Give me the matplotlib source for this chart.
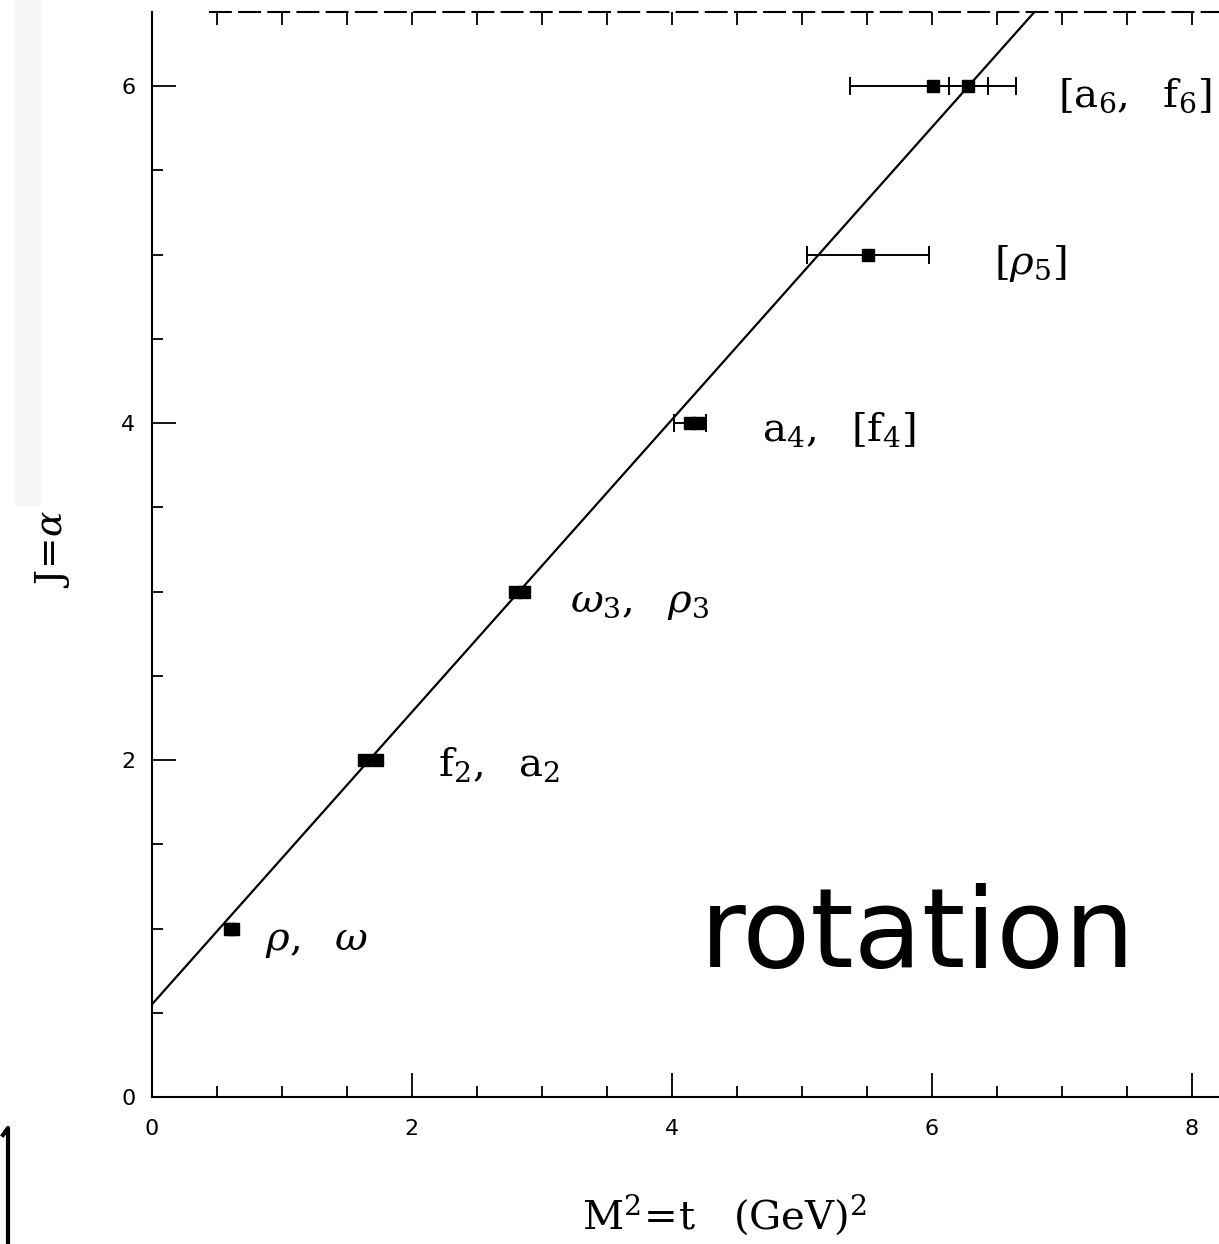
import numpy as np
import matplotlib.pyplot as plt
from matplotlib.ticker import MultipleLocator
from matplotlib.lines import Line2D
from matplotlib.patches import Rectangle

plt.rcParams['mathtext.fontset'] = 'dejavuserif'

# mesons on the leading trajectory: spin J against M^2 (GeV^2)
spin     = [1,    1,    2,    2,    3,    3,    4,    4,   5,    6,    6]
mass_sq  = [0.60, 0.62, 1.63, 1.73, 2.79, 2.86, 4.14, 4.2, 5.51, 6.01, 6.28]
mass_err = [0,    0,    0,    0,    0,    0,    0.12, 0,   0.47, 0.64, 0.15]

# linear trajectory alpha(t) = alpha0 + alpha_prime * t
alpha0 = 0.55
alpha_prime = 0.8675

# state names written next to each multiplet
state_labels = [r'$\rho,\ \ \omega$',
                r'$\mathrm{f}_2,\ \ \mathrm{a}_2$',
                r'$\omega_3,\ \ \rho_3$',
                r'$\mathrm{a}_4,\ \ [\mathrm{f}_4]$',
                r'$[\rho_5]$',
                r'$[\mathrm{a}_6,\ \ \mathrm{f}_6]$']
label_x = [0.87, 2.2, 3.22, 4.69, 6.48, 6.97]
label_y = [0.93, 1.97, 2.94, 3.96, 4.95, 5.94]

W, H = 1219, 1244
fig = plt.figure(figsize=(W / 100, H / 100), dpi=100)
ax = fig.add_axes([152 / W, 147 / H, 1067 / W, 1085 / H])

xmax, ymax = 8.21, 6.44
t = np.array([0.0, xmax])
ax.plot(t, alpha0 + alpha_prime * t, color='black', lw=1.6)

ms = np.array(mass_sq)
js = np.array(spin)
er = np.array(mass_err)
has_err = er > 0
ax.errorbar(ms[has_err], js[has_err], xerr=er[has_err], fmt='none',
            ecolor='black', elinewidth=1.4, capsize=6.5, capthick=1.4)
ax.plot(ms, js, 's', color='black', ms=9, mec='black')

for txt, lx, ly in zip(state_labels, label_x, label_y):
    ax.text(lx, ly, txt, fontsize=29, va='center', ha='left')

ax.set_xlim(0, xmax)
ax.set_ylim(0, ymax)
ax.set_xticks([0, 2, 4, 6, 8])
ax.set_yticks([0, 2, 4, 6])
ax.xaxis.set_minor_locator(MultipleLocator(0.5))
ax.yaxis.set_minor_locator(MultipleLocator(0.5))
ax.tick_params(which='both', direction='in', top=False, right=False,
               width=1.3, labelsize=16, labelfontfamily='DejaVu Sans')
ax.tick_params(which='major', length=17)
ax.tick_params(which='minor', length=8)
ax.tick_params(axis='x', pad=16)
ax.tick_params(axis='y', pad=12)

# short ticks hanging from the top frame
top = ax.twiny()
top.set_xlim(0, xmax)
top.xaxis.set_major_locator(MultipleLocator(0.5))
top.tick_params(direction='in', length=9, width=1.3, labeltop=False)
for side in top.spines.values():
    side.set_visible(False)

for side in ['left', 'bottom']:
    ax.spines[side].set_linewidth(1.5)
ax.spines['right'].set_visible(False)
ax.spines['top'].set_bounds(0.45, xmax)
ax.spines['top'].set_linestyle((0, (10, 4)))
ax.spines['top'].set_linewidth(1.5)

ax.set_xlabel(r'$\mathrm{M}^2\!=\!\mathrm{t}\quad(\mathrm{GeV})^2$', fontsize=29)
ax.xaxis.set_label_coords(0.537, -0.109)
ax.xaxis.label.set_va('center')
ax.set_ylabel(r'$\mathrm{J}\!=\!\alpha$', fontsize=27)
ax.yaxis.set_label_coords(-(152 - 52) / 1067, 0.505)
ax.yaxis.label.set_va('center')

# faint shadow strip along the left margin and the stray bracket below it
fig.patches.append(Rectangle((15 / W, 1 - 505 / H), 25 / W, 505 / H,
                             transform=fig.transFigure, color='#f6f6f6', zorder=0))
fig.lines.append(Line2D([3 / W, 8 / W, 8 / W], [1 - 1135 / H, 1 - 1128 / H, 0],
                        transform=fig.transFigure, color='black', lw=3))

fig.text(700 / W, 1 - 967 / H, 'rotation', fontsize=80, family='DejaVu Sans',
         va='baseline', ha='left')

fig.savefig('out.png', dpi=100)
